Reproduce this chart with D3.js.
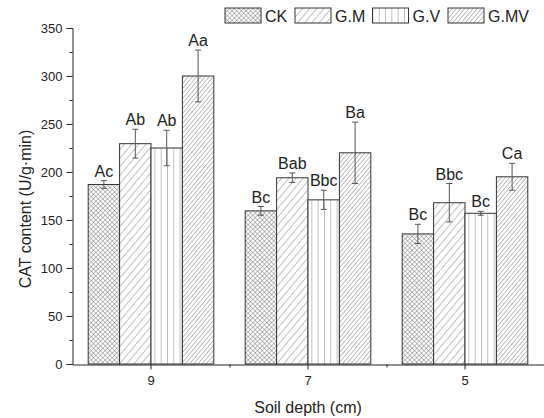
<!DOCTYPE html>
<html>
<head>
  <meta charset="utf-8">
  <title>CAT content</title>
  <script src="https://cdn.jsdelivr.net/npm/d3@7"></script>
  <style>
    body { margin: 0; background: #fff; }
    text { font-family: "Liberation Sans", Arial, sans-serif; fill: #222; }
  </style>
</head>
<body>
<div id="chart"></div>
<script>
  // data
  var depths = ["9", "7", "5"];
  var series = ["CK", "G.M", "G.V", "G.MV"];
  var means = [
    [187, 229.5, 225, 300],
    [159.5, 194, 171, 220],
    [135.5, 168, 157, 195]
  ];
  var errors = [
    [4, 15, 18.5, 27],
    [4.5, 5, 10, 32],
    [10, 20, 2, 14]
  ];
  var letters = [
    ["Ac", "Ab", "Ab", "Aa"],
    ["Bc", "Bab", "Bbc", "Ba"],
    ["Bc", "Bbc", "Bc", "Ca"]
  ];
  var yTicks = [0, 50, 100, 150, 200, 250, 300, 350];
  var yMinor = [25, 75, 125, 175, 225, 275, 325];

  var width = 544, height = 418;
  var svg = d3.select("#chart").append("svg")
    .attr("width", width)
    .attr("height", height);

  // hatch patterns
  var defs = svg.append("defs");
  function hatch(id, size, angle, cross) {
    var p = defs.append("pattern")
      .attr("id", id)
      .attr("patternUnits", "userSpaceOnUse")
      .attr("width", size).attr("height", size)
      .attr("patternTransform", "rotate(" + angle + ")");
    p.append("rect").attr("width", size).attr("height", size).attr("fill", "#fff");
    p.append("line").attr("x1", 0).attr("y1", 0).attr("x2", 0).attr("y2", size)
      .attr("stroke", "#666").attr("stroke-width", 0.8);
    if (cross) {
      p.append("line").attr("x1", 0).attr("y1", 0).attr("x2", size).attr("y2", 0)
        .attr("stroke", "#666").attr("stroke-width", 0.8);
    }
  }
  hatch("p0", 3.3, 45, true);
  hatch("p1", 5.5, 40, false);
  hatch("p2", 6.3, 0, false);
  hatch("p3", 3.2, 40, false);
  var fills = ["url(#p0)", "url(#p1)", "url(#p2)", "url(#p3)"];

  var x0 = d3.scaleBand().domain(depths).range([72.5, 543.5]);
  var x1 = d3.scaleBand().domain(series)
    .range([x0.bandwidth() * 0.1, x0.bandwidth() * 0.9]);
  var y = d3.scaleLinear().domain([0, 350]).range([364, 28]);

  // bars
  var groups = svg.selectAll(".grp").data(depths).enter().append("g")
    .attr("transform", function(d) { return "translate(" + x0(d) + ",0)"; });

  groups.each(function(d, i) {
    var g = d3.select(this);
    series.forEach(function(s, j) {
      var v = means[i][j], e = errors[i][j];
      var bx = x1(s), bw = x1.bandwidth(), cx = bx + bw / 2;
      g.append("rect")
        .attr("x", bx).attr("y", y(v))
        .attr("width", bw).attr("height", y(0) - y(v))
        .attr("fill", fills[j])
        .attr("stroke", "#333").attr("stroke-width", 1);
      // error bar
      g.append("line")
        .attr("x1", cx).attr("x2", cx)
        .attr("y1", y(v - e)).attr("y2", y(v + e))
        .attr("stroke", "#555").attr("stroke-width", 1);
      [v - e, v + e].forEach(function(t) {
        g.append("line")
          .attr("x1", cx - 3).attr("x2", cx + 3)
          .attr("y1", y(t)).attr("y2", y(t))
          .attr("stroke", "#555").attr("stroke-width", 1);
      });
      g.append("text")
        .attr("x", cx).attr("y", y(v + e) - 4)
        .attr("text-anchor", "middle")
        .style("font-size", "16px")
        .text(letters[i][j]);
    });
  });

  // y axis
  var yAxis = svg.append("g")
    .attr("transform", "translate(72.5,0)")
    .call(d3.axisLeft(y).tickValues(yTicks).tickSize(6).tickPadding(4));
  svg.append("g")
    .attr("transform", "translate(72.5,0)")
    .call(d3.axisLeft(y).tickValues(yMinor).tickSize(3).tickFormat(""))
    .select(".domain").remove();

  // x axis
  var xAxis = svg.append("g")
    .attr("transform", "translate(0,364.5)")
    .call(d3.axisBottom(x0).tickSize(5).tickSizeOuter(0).tickPadding(6));
  var xMinor = d3.scaleLinear().domain([0, 3]).range([72.5, 543.5]);
  svg.append("g")
    .attr("transform", "translate(0,364.5)")
    .call(d3.axisBottom(xMinor).tickValues([1, 2]).tickSize(3).tickFormat(""))
    .select(".domain").remove();

  svg.selectAll(".tick text").style("font-size", "13px").attr("fill", "#222");
  svg.selectAll(".domain, .tick line").attr("stroke", "#222");

  // axis titles
  svg.append("text")
    .attr("x", (72.5 + 543.5) / 2).attr("y", 413)
    .attr("text-anchor", "middle")
    .style("font-size", "16px")
    .text("Soil depth (cm)");
  svg.append("text")
    .attr("transform", "translate(31,209) rotate(-90)")
    .attr("text-anchor", "middle")
    .style("font-size", "16px")
    .text("CAT content (U/g·min)");

  // legend
  var legX = [225, 295, 372.5, 448];
  var leg = svg.selectAll(".leg").data(series).enter().append("g")
    .attr("transform", function(d, i) { return "translate(" + legX[i] + ",8)"; });
  leg.append("rect")
    .attr("width", 36).attr("height", 15)
    .attr("fill", function(d, i) { return fills[i]; })
    .attr("stroke", "#333").attr("stroke-width", 1);
  leg.append("text")
    .attr("x", 40).attr("y", 14)
    .style("font-size", "16px")
    .text(function(d) { return d; });
</script>
</body>
</html>
